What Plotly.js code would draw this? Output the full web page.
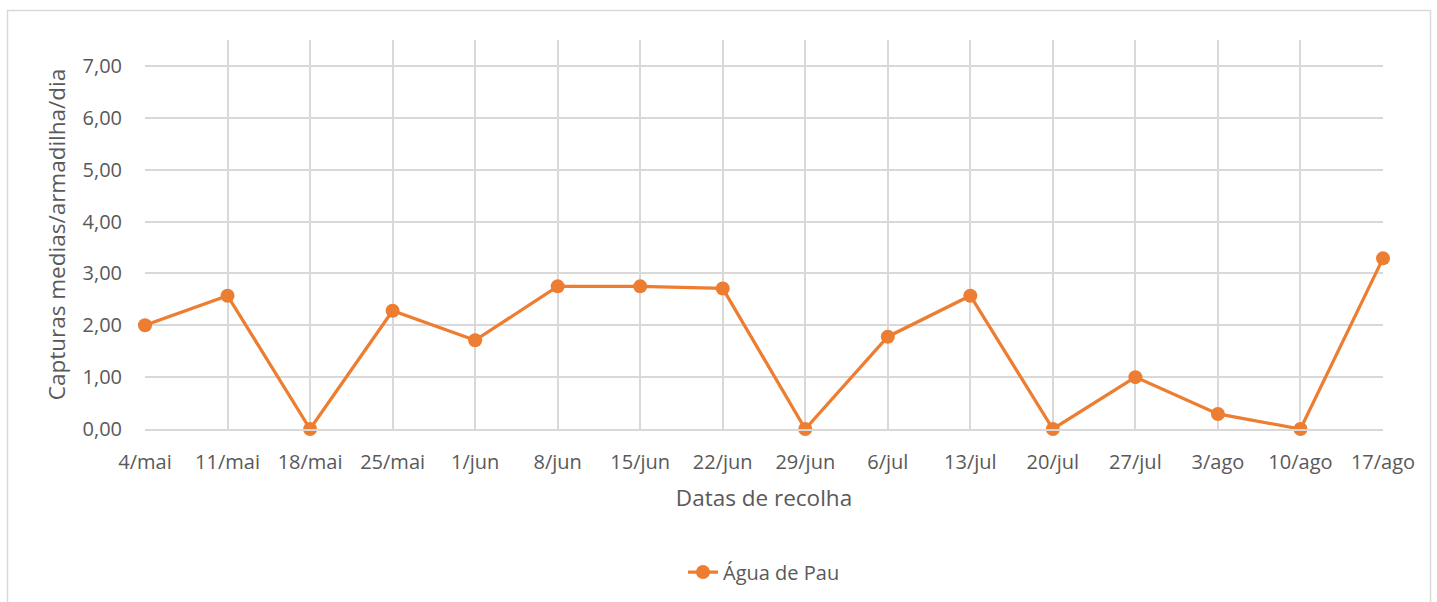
<!DOCTYPE html>
<html><head><meta charset="utf-8">
<script src="https://cdn.plot.ly/plotly-3.0.1.min.js"></script>
<style>body{margin:0;background:#fff}#c{width:1437px;height:602px}</style>
</head><body><div id="c"></div>
<script>
const categories = ["4/mai","11/mai","18/mai","25/mai","1/jun","8/jun","15/jun","22/jun","29/jun","6/jul","13/jul","20/jul","27/jul","3/ago","10/ago","17/ago"];
const aguaDePau = [2.00,2.57,0.00,2.28,1.71,2.75,2.75,2.71,0.00,1.78,2.57,0.00,1.00,0.29,0.00,3.29];
const seriesName = "Água de Pau";
const yTitle = "Capturas medias/armadilha/dia";
const xTitle = "Datas de recolha";

const W=1437,H=602,L=145,R=54,T=40,B=172;
const pw=W-L-R, ph=H-T-B;
const px=x=>(x-L)/pw, py=y=>(H-B-y)/ph;
const font="'Open Sans', sans-serif";
const trace={x:categories,y:aguaDePau,type:'scatter',mode:'lines+markers',name:seriesName,
 line:{color:'#ED7D31',width:3.25},marker:{color:'#ED7D31',size:14},cliponaxis:false};
const layout={width:W,height:H,margin:{l:L,r:R,t:T,b:B},separators:',.',
 paper_bgcolor:'#fff',plot_bgcolor:'#fff',font:{family:font,color:'#595959',size:20},
 xaxis:{type:'category',range:[0,15],showgrid:true,gridcolor:'#D9D9D9',gridwidth:2,
  showline:true,linecolor:'#D9D9D9',linewidth:2,ticks:'',ticklabelstandoff:14,
  tickfont:{size:20,color:'#595959'},
  title:{text:xTitle,font:{size:22.5,color:'#595959'},standoff:16},fixedrange:true},
 yaxis:{range:[0,7.5],tick0:0,dtick:1,tickformat:'.2f',showgrid:true,gridcolor:'#D9D9D9',gridwidth:2,
  zeroline:false,ticks:'',ticklabelstandoff:22,tickfont:{size:20,color:'#595959'},
  title:{text:yTitle,font:{size:22.5,color:'#595959'},standoff:10},fixedrange:true},
 showlegend:true,
 legend:{orientation:'h',x:0.5,xanchor:'center',y:py(572),yanchor:'middle',font:{size:20,color:'#595959'}},
 shapes:[{type:'rect',xref:'paper',yref:'paper',x0:px(7.5),x1:px(1430.5),y0:py(10.5),y1:py(700),
  line:{color:'#D9D9D9',width:1.5},fillcolor:'rgba(0,0,0,0)',layer:'below'}]
};
Plotly.newPlot('c',[trace],layout,{displayModeBar:false,staticPlot:true});
</script></body></html>
